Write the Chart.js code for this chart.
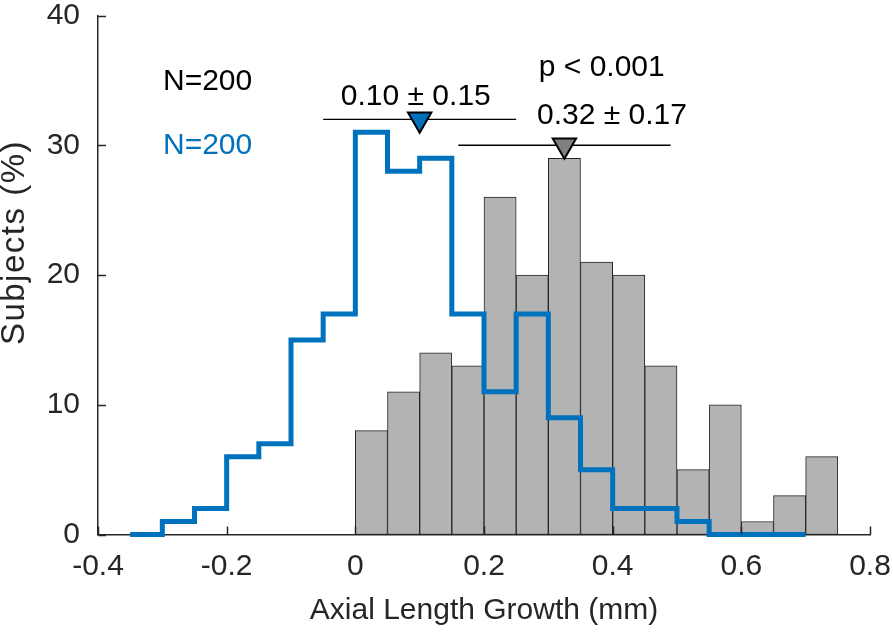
<!DOCTYPE html>
<html><head><meta charset="utf-8">
<script src="https://cdn.jsdelivr.net/npm/chart.js@4/dist/chart.umd.min.js"></script>
<style>html,body{margin:0;padding:0;background:#fff}#wrap{width:893px;height:632px}</style>
</head><body><div id="wrap"><canvas id="c" width="893" height="632"></canvas></div>
<script>
// ---- data ----
const grayBinCenters = [0.025,0.075,0.125,0.175,0.225,0.275,0.325,0.375,0.425,0.475,0.525,0.575,0.625,0.675,0.725];
const grayCounts     = [8,11,14,13,26,20,29,21,20,13,5,10,1,3,6];
const blueBinEdges   = [-0.35,-0.3,-0.25,-0.2,-0.15,-0.1,-0.05,0,0.05,0.1,0.15,0.2,0.25,0.3,0.35,0.4,0.45,0.5,0.55,0.6,0.65,0.7];
const blueCounts     = [0,1,2,6,7,15,17,31,28,29,17,11,17,9,5,2,2,1,0,0,0];
const xTicks = [-0.4,-0.2,0,0.2,0.4,0.6,0.8];
const yTicks = [0,10,20,30,40];
const blueMean = 0.10, blueSD = 0.15, blueMarkLevel = 32;
const grayMean = 0.325, graySD = 0.165, grayMarkLevel = 30;
const blueStatText = '0.10 \u00B1 0.15';
const grayStatText = '0.32 \u00B1 0.17';
const pText = 'p < 0.001';
const nGrayText = 'N=200';
const nBlueText = 'N=200';
const xTitle = 'Axial Length Growth (mm)';
const yTitle = 'Subjects (%)';

const BLUE = '#0072BD';
const AX = '#262626';
const FONT = '"Liberation Sans", Arial, Helvetica, sans-serif';
const FS = 30;

const bluePoints = blueBinEdges.map((e, i) => ({x: e, y: i < blueCounts.length ? blueCounts[i] : blueCounts[blueCounts.length - 1]}));
const grayPoints = grayBinCenters.map((c, i) => ({x: c, y: grayCounts[i]}));

const overlay = {
  id: 'overlay',
  afterDraw(chart) {
    const {ctx, chartArea: ca, scales: {x, y}} = chart;
    ctx.save();
    ctx.strokeStyle = AX; ctx.lineWidth = 1.5;
    xTicks.forEach(v => { const px = Math.round(x.getPixelForValue(v)) + 0.5; ctx.beginPath(); ctx.moveTo(px, ca.bottom); ctx.lineTo(px, ca.bottom - 8); ctx.stroke(); });
    yTicks.forEach(v => { const py = Math.round(y.getPixelForValue(v)) + 0.5; ctx.beginPath(); ctx.moveTo(ca.left, py); ctx.lineTo(ca.left + 8, py); ctx.stroke(); });
    ctx.font = FS + 'px ' + FONT;
    ctx.textBaseline = 'middle';
    ctx.fillStyle = '#000';
    ctx.textAlign = 'left';
    ctx.fillText(nGrayText, x.getPixelForValue(-0.299), y.getPixelForValue(34.9));
    ctx.fillStyle = BLUE;
    ctx.fillText(nBlueText, x.getPixelForValue(-0.299), y.getPixelForValue(30.0));
    ctx.fillStyle = '#000';
    ctx.textAlign = 'center';
    ctx.fillText(blueStatText, x.getPixelForValue(0.094), y.getPixelForValue(33.75));
    ctx.fillText(grayStatText, x.getPixelForValue(0.399), y.getPixelForValue(32.3));
    ctx.fillText(pText, x.getPixelForValue(0.383), y.getPixelForValue(36.0));
    ctx.fillStyle = AX;
    ctx.font = '33px ' + FONT;
    ctx.translate(15, y.getPixelForValue(22.5));
    ctx.rotate(-Math.PI / 2);
    try { ctx.letterSpacing = '1.5px'; } catch (e) {}
    ctx.fillText(yTitle, 0, 0);
    ctx.restore();
  }
};

new Chart(document.getElementById('c'), {
  type: 'bar',
  data: {
    datasets: [
      {type: 'scatter', data: [{x: blueMean, y: blueMarkLevel}], pointStyle: 'triangle', rotation: 180, pointRadius: 13.5, backgroundColor: BLUE, borderColor: '#000', borderWidth: 2, clip: false, order: 1},
      {type: 'scatter', data: [{x: grayMean, y: grayMarkLevel}], pointStyle: 'triangle', rotation: 180, pointRadius: 13.5, backgroundColor: '#808080', borderColor: '#000', borderWidth: 2, clip: false, order: 1},
      {type: 'line', data: [{x: blueMean - blueSD, y: blueMarkLevel}, {x: blueMean + blueSD, y: blueMarkLevel}], borderColor: '#000', borderWidth: 1.3, pointRadius: 0, fill: false, order: 2},
      {type: 'line', data: [{x: grayMean - graySD, y: grayMarkLevel}, {x: grayMean + graySD, y: grayMarkLevel}], borderColor: '#000', borderWidth: 1.3, pointRadius: 0, fill: false, order: 2},
      {type: 'line', data: bluePoints, stepped: true, borderColor: BLUE, borderWidth: 5, pointRadius: 0, fill: false, clip: false, borderJoinStyle: 'miter', borderCapStyle: 'butt', order: 3},
      {type: 'bar', data: grayPoints, backgroundColor: '#b3b3b3', borderColor: AX, borderWidth: 1, borderSkipped: false, barPercentage: 1, categoryPercentage: 1, grouped: false, order: 5}
    ]
  },
  options: {
    responsive: false,
    animation: false,
    events: [],
    layout: {padding: {top: 11.5, right: 23, left: 0, bottom: 0}},
    plugins: {legend: {display: false}, tooltip: {enabled: false}},
    scales: {
      x: {
        type: 'linear', min: -0.4, max: 0.8, offset: false,
        afterBuildTicks: s => { s.ticks = xTicks.map(v => ({value: v})); },
        afterFit: s => { s.height = 97.5; s.paddingLeft = 0; s.paddingRight = 0; },
        ticks: {font: {family: FONT, size: FS}, color: AX, padding: 14, maxRotation: 0, autoSkip: false, callback: v => String(v)},
        grid: {display: false, drawTicks: false, offset: false},
        border: {display: true, color: AX, width: 1.5},
        title: {display: true, text: xTitle, font: {family: FONT, size: FS}, color: AX, padding: {top: 0, bottom: 3}}
      },
      y: {
        type: 'linear', min: 0, max: 40,
        afterBuildTicks: s => { s.ticks = yTicks.map(v => ({value: v})); },
        afterFit: s => { s.width = 98; s.paddingTop = 0; s.paddingBottom = 0; },
        ticks: {font: {family: FONT, size: FS}, color: AX, padding: 18, callback: v => String(v)},
        grid: {display: false, drawTicks: false},
        border: {display: true, color: AX, width: 1.5}
      }
    }
  },
  plugins: [overlay]
});
</script>
</body></html>
